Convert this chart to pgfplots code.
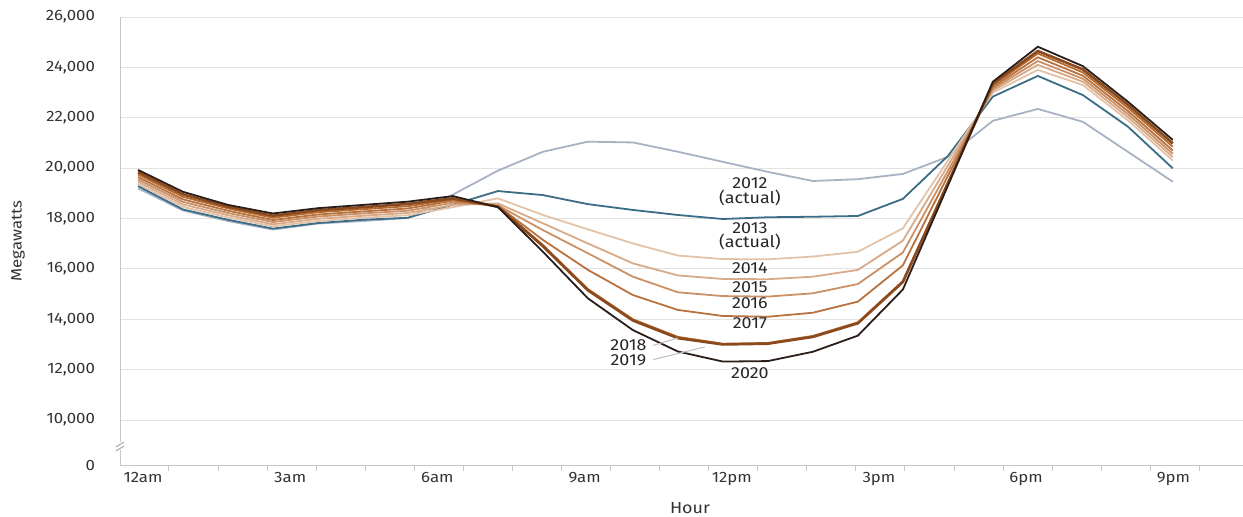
\documentclass[border=0pt]{standalone}
\usepackage{fontspec}
\setmainfont{Fira Sans}[FakeStretch=1.12]
\usepackage{pgfplots}
\pgfplotsset{compat=1.18}
\usepackage{pgfplotstable}

\definecolor{c2012}{HTML}{A7B3C3}
\definecolor{c2013}{HTML}{3B6D86}
\definecolor{c2014}{HTML}{E3C3A8}
\definecolor{c2015}{HTML}{D8AA88}
\definecolor{c2016}{HTML}{CA9166}
\definecolor{c2017}{HTML}{B87240}
\definecolor{c2018}{HTML}{B56A2E}
\definecolor{c2019}{HTML}{8A4A1E}
\definecolor{c2020}{HTML}{2B1D18}
\definecolor{txt}{HTML}{333333}

% net load by hour (MW); the "0" tick sits at 8214 (axis break)
\pgfplotstableread{
h  y2012 y2013 y2014 y2015 y2016 y2017 y2018 y2019 y2020
0  19200 19290 19380 19470 19560 19650 19750 19840 19930
1  18320 18360 18460 18560 18660 18760 18860 18960 19060
2  17900 17950 18040 18130 18220 18310 18400 18470 18540
3  17560 17600 17690 17770 17860 17940 18030 18110 18200
4  17800 17820 17900 17990 18080 18160 18250 18330 18410
5  17900 17950 18030 18110 18200 18280 18370 18450 18540
6  18020 18030 18130 18220 18310 18400 18490 18580 18670
7  18950 18550 18450 18540 18630 18710 18760 18800 18890
8  19900 19090 18800 18600 18520 18500 18480 18470 18450
9  20650 18930 18140 17810 17540 17150 16950 16900 16680
10 21050 18570 17570 17010 16620 15960 15200 15150 14830
11 21020 18340 17010 16220 15690 14960 14000 13950 13570
12 20650 18140 16530 15740 15070 14370 13300 13250 12720
13 20250 17980 16390 15600 14920 14130 13030 13000 12320
14 19850 18050 16380 15590 14900 14100 13060 13030 12340
15 19490 18070 16490 15690 15030 14260 13340 13300 12710
16 19560 18100 16680 15960 15400 14700 13880 13840 13350
17 19770 18780 17610 17120 16650 16140 15520 15480 15180
18 20450 20480 20300 20100 19890 19690 19430 19400 19300
19 21880 22840 23000 23080 23150 23220 23290 23360 23430
20 22350 23660 23900 24100 24250 24400 24550 24650 24820
21 21840 22900 23300 23430 23550 23670 23800 23920 24050
22 20650 21650 21900 22030 22150 22270 22400 22520 22640
23 19460 19990 20300 20440 20570 20700 20850 20980 21120
}\duck

\begin{document}
\begin{tikzpicture}[font=\fontsize{7.5}{9}\selectfont, text=txt]
\begin{axis}[
  scale only axis,
  width=561.5pt, height=224pt,
  xmin=-0.4, xmax=24.56,
  ymin=8214, ymax=26000,
  clip=false,
  scaled y ticks=false,
  axis x line*=bottom, axis y line*=left,
  axis line style={draw=black!22, -},
  ymajorgrids,
  grid style={draw=black!11, line width=0.5pt},
  ytick={8214,10000,12000,14000,16000,18000,20000,22000,24000,26000},
  yticklabels={0,{10,000},{12,000},{14,000},{16,000},{18,000},{20,000},{22,000},{24,000},{26,000}},
  ytick style={draw=none},
  yticklabel style={xshift=-6pt},
  xtick={0.689,1.780,2.870,3.961,5.051,6.142,7.232,8.323,9.413,10.504,11.594,12.685,13.775,14.866,15.956,17.047,18.137,19.228,20.318,21.409,22.499,23.590},
  xticklabels={12am,,,3am,,,6am,,,9am,,,12pm,,,3pm,,,6pm,,,9pm},
  xtick style={draw=black!22, line width=0.5pt},
  tick align=outside,
  major tick length=3pt,
  xticklabel style={xshift=-13pt, yshift=3pt},
  every axis plot/.append style={line width=0.9pt},
]
\coordinate (sw) at (rel axis cs:0,0);
\coordinate (ne) at (rel axis cs:1,1);

\addplot[c2012] table[x=h, y=y2012] {\duck};
\addplot[c2013] table[x=h, y=y2013] {\duck};
\addplot[c2014] table[x=h, y=y2014] {\duck};
\addplot[c2015] table[x=h, y=y2015] {\duck};
\addplot[c2016] table[x=h, y=y2016] {\duck};
\addplot[c2017] table[x=h, y=y2017] {\duck};
\addplot[c2018] table[x=h, y=y2018] {\duck};
\addplot[c2019, line width=1.3pt] table[x=h, y=y2019] {\duck};
\addplot[c2020] table[x=h, y=y2020] {\duck};

% axis break on the y axis
\fill[white] ([xshift=-2pt,yshift=-2.5pt]axis cs:-0.4,9008) rectangle ([xshift=2pt,yshift=1.5pt]axis cs:-0.4,9008);
\draw[black!35, line width=0.5pt] ([xshift=-2pt,yshift=-3pt]axis cs:-0.4,9008) -- ++(4pt,2.5pt);
\draw[black!35, line width=0.5pt] ([xshift=-2pt,yshift=-1pt]axis cs:-0.4,9008) -- ++(4pt,2.5pt);

% series labels
\begin{scope}[every node/.style={font=\fontsize{8}{9}\selectfont, text=black!85, inner sep=0pt}]
\node at (axis cs:13.6,19410) {2012};
\node at (axis cs:13.6,18815) {(actual)};
\node at (axis cs:13.6,17600) {2013};
\node at (axis cs:13.6,17060) {(actual)};
\node at (axis cs:13.6,16035) {2014};
\node at (axis cs:13.6,15280) {2015};
\node at (axis cs:13.6,14650) {2016};
\node at (axis cs:13.6,13850) {2017};
\node at (axis cs:10.9,12980) {2018};
\node at (axis cs:10.9,12380) {2019};
\node at (axis cs:13.6,11870) {2020};
\end{scope}
\draw[black!25, line width=0.5pt] (axis cs:11.45,12960) -- (axis cs:12.0,13260);
\draw[black!25, line width=0.5pt] (axis cs:11.45,12400) -- (axis cs:12.6,12900);

\node[rotate=90, font=\fontsize{7.5}{9}\selectfont] at ([xshift=-51pt]rel axis cs:0,0.5) {Megawatts};
\node[font=\fontsize{8}{9}\selectfont] at ([yshift=-21.5pt]axis cs:12.27,8214) {Hour};
\end{axis}
\pgfresetboundingbox
\path ([shift={(-60pt,-25.5pt)}]sw) rectangle ([yshift=8.5pt]ne);
\end{tikzpicture}
\end{document}
